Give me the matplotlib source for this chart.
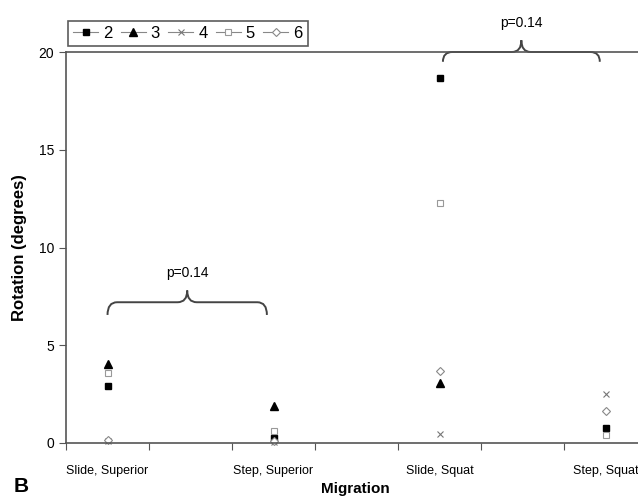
import numpy as np
import matplotlib
matplotlib.use("Agg")
from matplotlib import pyplot as plt
from matplotlib.path import Path
from matplotlib.patches import PathPatch

# category slots (Excel style: labelled slots alternate with empty ones)
slots = ["Slide, Superior", "", "Step, Superior", "", "Slide, Squat", "", "Step, Squat", ""]
point_slots = [0, 2, 4, 6]

series_names = ["2", "3", "4", "5", "6"]
s2 = [2.9, 0.25, 18.65, 0.77]
s3 = [4.05, 1.9, 3.07, np.nan]
s4 = [0.1, 0.05, 0.46, 2.5]
s5 = [3.6, 0.6, 12.3, 0.4]
s6 = [0.15, 0.1, 3.7, 1.65]

p_left = "p=0.14"
p_right = "p=0.14"

plt.rcParams['font.family'] = ['Liberation Sans Narrow', 'Liberation Sans', 'DejaVu Sans']


def _brace(ax, x0, x1, y, h, tip):
    """curly brace from x0 to x1, horizontal at y, ends at y-h, tip at y+tip"""
    xm = (x0 + x1) / 2
    dx = (x1 - x0) * 0.06
    verts = [(x0, y - h), (x0, y), (x0 + dx, y),
             (xm - dx, y), (xm, y), (xm, y + tip),
             (xm, y), (xm + dx, y),
             (x1 - dx, y), (x1, y), (x1, y - h)]
    codes = [Path.MOVETO, Path.CURVE3, Path.CURVE3,
             Path.LINETO, Path.CURVE3, Path.CURVE3,
             Path.CURVE3, Path.CURVE3,
             Path.LINETO, Path.CURVE3, Path.CURVE3]
    patch = PathPatch(Path(verts, codes), fill=False, edgecolor='#444444', lw=1.4, clip_on=False)
    ax.add_patch(patch)


def main():
    fig = plt.figure(figsize=(6.38, 5.01), dpi=100)
    ax = fig.add_axes([66 / 638, 58 / 501, 572 / 638, 391 / 501])

    styles = [
        dict(marker='s', mfc='black', mec='black', ms=5),
        dict(marker='^', mfc='black', mec='black', ms=6),
        dict(marker='x', mfc='none', mec='#777777', ms=5, mew=0.8),
        dict(marker='s', mfc='white', mec='#999999', ms=4.5, mew=0.8),
        dict(marker='D', mfc='white', mec='#888888', ms=4.5, mew=0.8),
    ]
    for name, vals, st in zip(series_names, [s2, s3, s4, s5, s6], styles):
        ax.plot(point_slots, vals, linestyle='none', label=name, clip_on=False, **st)

    ax.set_yticks([0, 5, 10, 15, 20])
    ax.set_xticks(np.arange(len(slots)) - 0.5, minor=False)
    ax.set_xticklabels([])
    ax.set_xticks(np.arange(len(slots)), minor=True)
    ax.set_xticklabels(slots, minor=True)
    ax.set_xlim(-0.5, 6.39)
    ax.set_ylim(0, 20)
    ax.tick_params(axis='x', which='minor', length=0, pad=16, labelsize=9)
    ax.tick_params(axis='x', which='major', length=5, direction='out', color='#555555')
    ax.tick_params(axis='y', length=5, direction='out', labelsize=10, color='#555555')
    for side in ['left', 'bottom', 'top']:
        ax.spines[side].set_color('#555555')
        ax.spines[side].set_linewidth(1.2)
    ax.spines['right'].set_visible(False)

    ax.set_ylabel("Rotation (degrees)", fontsize=12, fontweight='bold',
                  family=['Liberation Sans', 'DejaVu Sans'], labelpad=8)
    fig.text(355 / 638, 1 - 489 / 501, "Migration", ha='center', va='center', fontsize=11,
             fontweight='bold', family=['Liberation Sans', 'DejaVu Sans'])
    fig.text(14 / 638, 1 - 486 / 501, "B", ha='left', va='center', fontsize=15,
             fontweight='bold', family=['Liberation Sans', 'DejaVu Sans'])

    _brace(ax, 0.0, 1.92, 7.2, 0.65, 0.6)
    ax.text(0.96, 8.7, p_left, ha='center', va='center', fontsize=10,
            family=['Liberation Sans', 'DejaVu Sans'])
    _brace(ax, 4.04, 5.93, 20.0, 0.5, 0.6)
    ax.text(4.99, 21.5, p_right, ha='center', va='center', fontsize=10,
            family=['Liberation Sans', 'DejaVu Sans'], clip_on=False)

    handles = []
    for st in styles:
        h, = ax.plot([], [], color='#888888', lw=0.8, **st)
        handles.append(h)
    leg = fig.legend(handles, series_names, loc='upper left', ncol=5,
                     bbox_to_anchor=(68 / 638, 1 - 21 / 501), borderaxespad=0,
                     frameon=True, fancybox=False,
                     handlelength=1.5, handletextpad=0.3, columnspacing=0.5, borderpad=0.3,
                     prop=dict(family=['Liberation Sans', 'DejaVu Sans'], size=12))
    leg.get_frame().set_edgecolor('#333333')
    leg.get_frame().set_linewidth(1.2)

    fig.savefig("out.png", dpi=100)


if __name__ == "__main__":
    main()
